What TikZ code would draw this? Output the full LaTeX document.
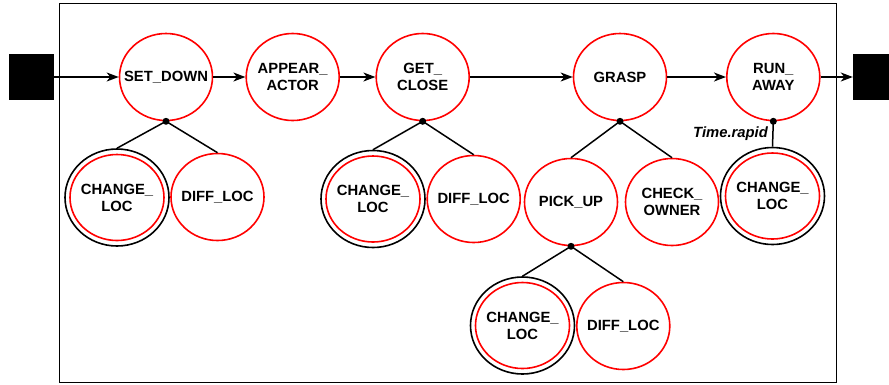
\documentclass[tikz,border=0pt]{standalone}
\usepackage{fontspec}
\setmainfont{Liberation Sans}
\usetikzlibrary{arrows.meta,shapes.geometric}
\begin{document}
\begin{tikzpicture}[x=1pt,y=-1pt,
  st/.style={ellipse, draw=red, line width=1.6pt, minimum width=93pt, minimum height=87pt, inner sep=0pt},
  inr/.style={ellipse, draw=red, line width=1.6pt, minimum width=94pt, minimum height=86pt, inner sep=0pt},
  outr/.style={ellipse, draw=black, line width=1.6pt, minimum width=104pt, minimum height=97pt, inner sep=0pt},
  lab/.style={align=center, font=\fontsize{14.8}{17}\selectfont\bfseries, inner sep=0pt},
  blk/.style={rectangle, fill=black, inner sep=0pt, minimum height=46pt},
  dot/.style={circle, fill=black, inner sep=0pt, minimum size=7pt},
  conn/.style={line width=1.5pt},
  arr/.style={line width=1.5pt, -{Stealth[length=12pt,width=9pt,inset=3.5pt]}}]
\useasboundingbox (0,0) rectangle (889,384);
\draw[line width=1pt] (59.5,3.5) rectangle (836.5,382);
% terminals
\node[blk, minimum width=45pt] (start) at (31.5,77) {};
\node[blk, minimum width=36pt] (stop) at (871,77) {};
% top row
\node[st, label={[lab]center:{SET\_DOWN}}] (sd) at (166,77) {};
\node[st, label={[lab]center:{APPEAR\_\\ACTOR}}] (aa) at (292.7,77) {};
\node[st, label={[lab]center:{GET\_\\CLOSE}}] (gc) at (422.7,77) {};
\node[st, label={[lab]center:{GRASP}}] (gr) at (620,77) {};
\node[st, label={[lab]center:{RUN\_\\AWAY}}] (ra) at (773.3,77) {};
\draw[arr] (start) -- (sd);
\draw[arr] (sd) -- (aa);
\draw[arr] (aa) -- (gc);
\draw[arr] (gc) -- (gr);
\draw[arr] (gr) -- (ra);
\draw[arr] (ra) -- (stop);
% SET_DOWN children
\node[outr] (cl1o) at (117,197.5) {};
\node[inr, label={[lab]center:{CHANGE\_\\LOC}}] (cl1) at (117,197.5) {};
\node[st, label={[lab]center:{DIFF\_LOC}}] (dl1) at (217.5,197) {};
\node[dot] (d1) at (sd.south) {};
\draw[conn] (d1.center) -- (cl1o.north);
\draw[conn] (d1.center) -- (dl1.north);
% GET_CLOSE children
\node[outr] (cl2o) at (373,199) {};
\node[inr, label={[lab]center:{CHANGE\_\\LOC}}] (cl2) at (373,199) {};
\node[st, label={[lab]center:{DIFF\_LOC}}] (dl2) at (473.7,199) {};
\node[dot] (d2) at (gc.south) {};
\draw[conn] (d2.center) -- (cl2o.north);
\draw[conn] (d2.center) -- (dl2.north);
% GRASP children
\node[st, label={[lab]center:{PICK\_UP}}] (pu) at (571,202) {};
\node[st, label={[lab]center:{CHECK\_\\OWNER}}] (co) at (672,202) {};
\node[dot] (d3) at (gr.south) {};
\draw[conn] (d3.center) -- (pu.north);
\draw[conn] (d3.center) -- (co.north);
% PICK_UP children
\node[outr] (cl4o) at (522.5,325.5) {};
\node[inr, label={[lab]center:{CHANGE\_\\LOC}}] (cl4) at (522.5,325.5) {};
\node[st, label={[lab]center:{DIFF\_LOC}}] (dl4) at (623.3,326) {};
\node[dot] (d4) at (pu.south) {};
\draw[conn] (d4.center) -- (cl4o.north);
\draw[conn] (d4.center) -- (dl4.north);
% RUN_AWAY child
\node[outr] (cl3o) at (772.5,196) {};
\node[inr, label={[lab]center:{CHANGE\_\\LOC}}] (cl3) at (772.5,196) {};
\node[dot] (d5) at (ra.south) {};
\draw[conn] (d5.center) -- (cl3o.north);
\node[lab, font=\fontsize{14.8}{17}\selectfont\bfseries\itshape, anchor=east] (tr) at (768,134) {Time.rapid};
\end{tikzpicture}
\end{document}
